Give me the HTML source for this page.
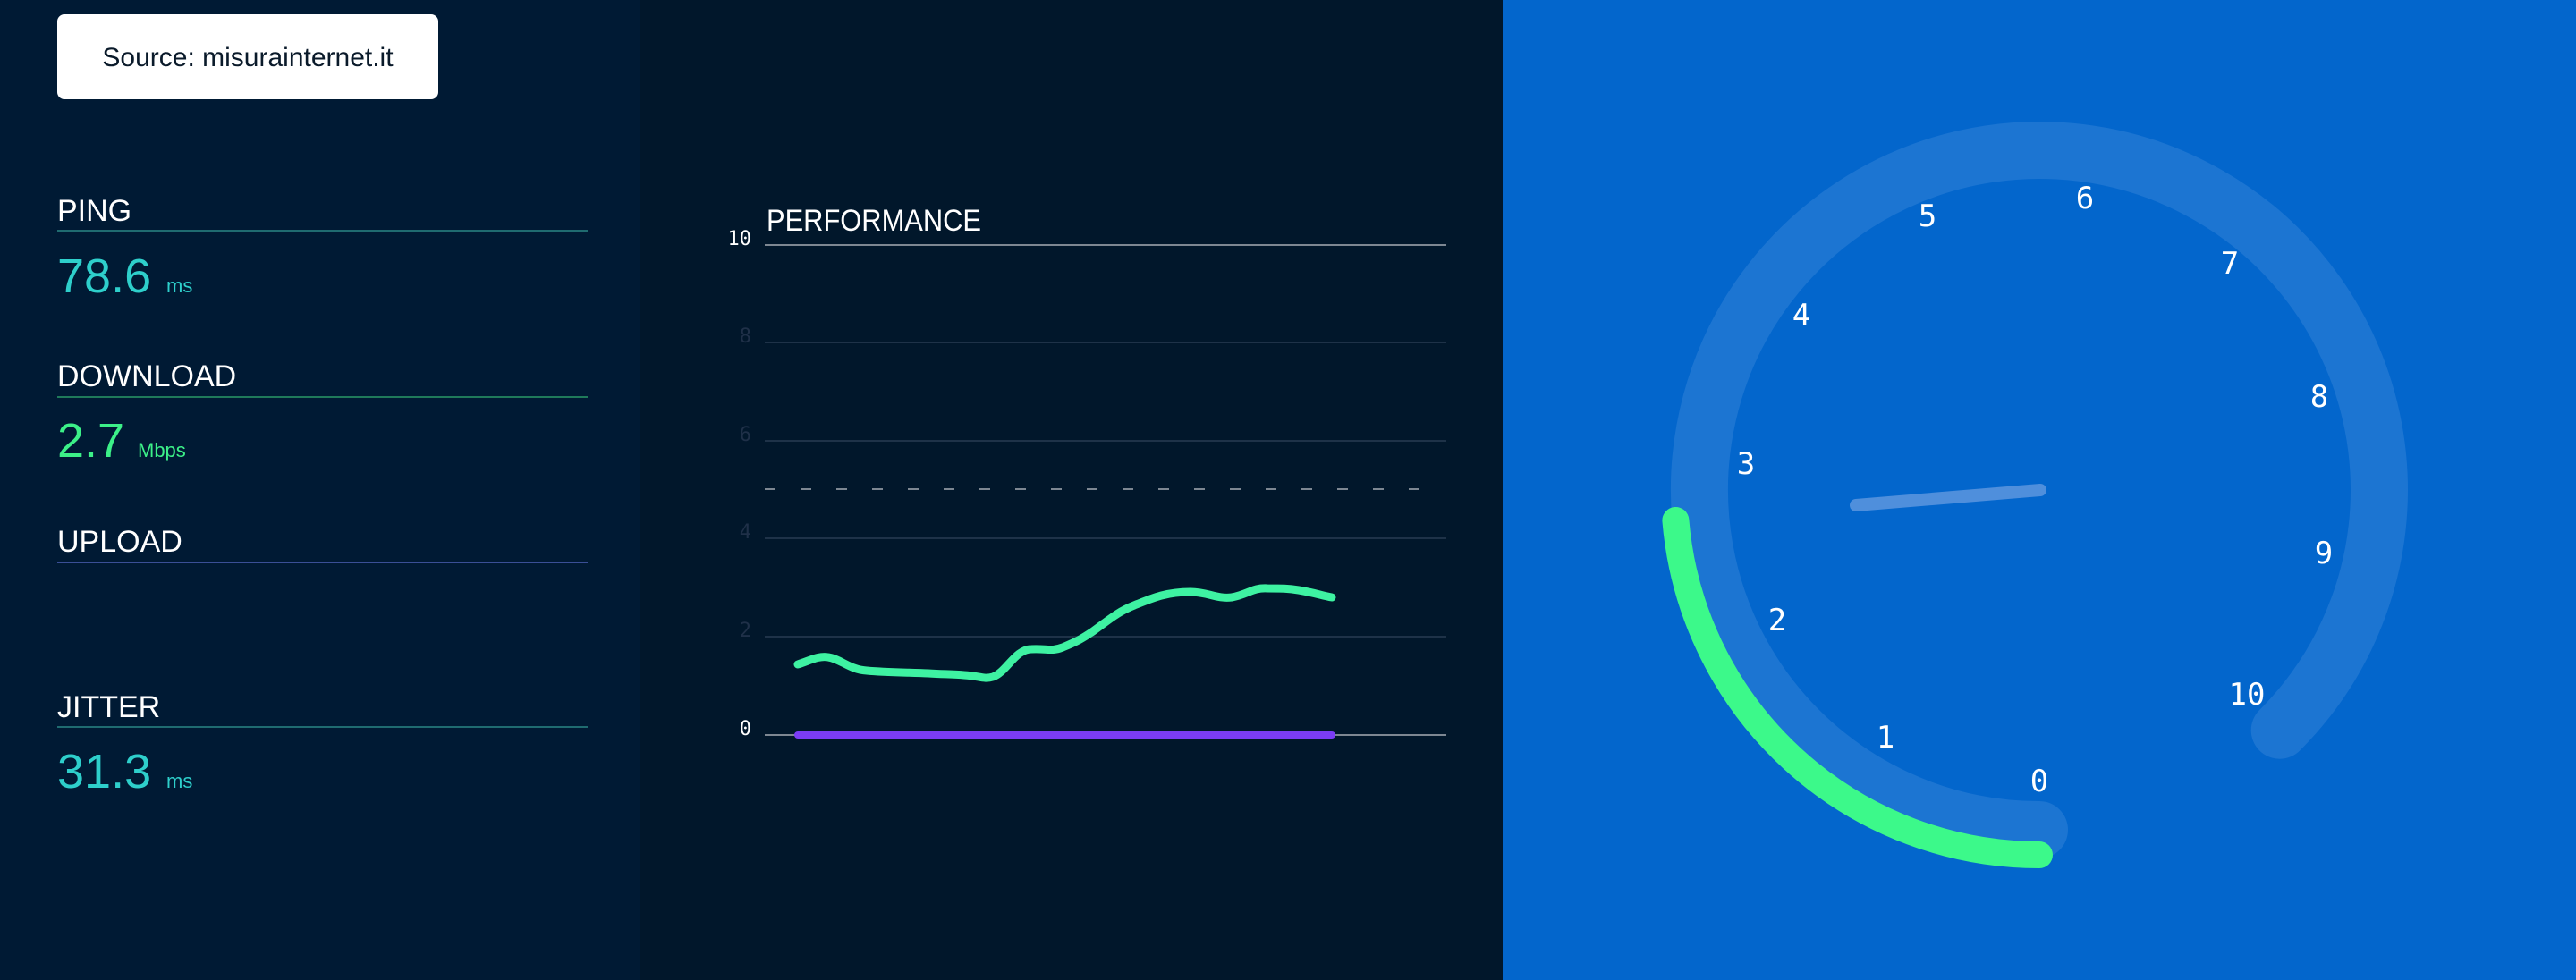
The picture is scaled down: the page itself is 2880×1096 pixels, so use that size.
<!DOCTYPE html>
<html><head><meta charset="utf-8"><style>
html,body{margin:0;padding:0;width:2880px;height:1096px;overflow:hidden;background:#001a33}
svg{display:block}
</style></head><body>
<svg width="2880" height="1096" viewBox="0 0 2880 1096" xmlns="http://www.w3.org/2000/svg" font-family="Liberation Sans, sans-serif">
<rect x="0" y="0" width="716" height="1096" fill="#001a34"/>
<rect x="716" y="0" width="964" height="1096" fill="#01172b"/>
<rect x="1680" y="0" width="1200" height="1096" fill="#0366cc"/>

<!-- source button -->
<rect x="64" y="16" width="426" height="95" rx="8" fill="#ffffff"/>
<text x="277" y="74" font-size="30" fill="#0a1a2a" text-anchor="middle">Source: misurainternet.it</text>

<!-- stats -->
<g fill="#ffffff" font-size="34">
<text x="64" y="247">PING</text>
<text x="64" y="432">DOWNLOAD</text>
<text x="64" y="617">UPLOAD</text>
<text x="64" y="802">JITTER</text>
</g>
<rect x="64" y="257" width="593" height="2" fill="#1f6b70"/>
<rect x="64" y="443" width="593" height="2" fill="#1f7a5a"/>
<rect x="64" y="628" width="593" height="2" fill="#3a4f96"/>
<rect x="64" y="812" width="593" height="2" fill="#1f6b70"/>
<text x="64" y="327" font-size="54" fill="#2ecfcb">78.6</text>
<text x="186" y="327" font-size="22" fill="#2ecfcb">ms</text>
<text x="64" y="511" font-size="54" fill="#3cf088">2.7</text>
<text x="154" y="511" font-size="22" fill="#3cf088">Mbps</text>
<text x="64" y="881" font-size="54" fill="#2ecfcb">31.3</text>
<text x="186" y="881" font-size="22" fill="#2ecfcb">ms</text>

<!-- chart -->
<text x="857" y="258" font-size="34" fill="#ffffff" textLength="240" lengthAdjust="spacingAndGlyphs">PERFORMANCE</text>
<g stroke-width="2">
<line x1="855" y1="274" x2="1617" y2="274" stroke="#7d8792"/>
<line x1="855" y1="383" x2="1617" y2="383" stroke="#1e3248"/>
<line x1="855" y1="493" x2="1617" y2="493" stroke="#1e3248"/>
<line x1="855" y1="602" x2="1617" y2="602" stroke="#1e3248"/>
<line x1="855" y1="712" x2="1617" y2="712" stroke="#1e3248"/>
<line x1="855" y1="822" x2="1617" y2="822" stroke="#7d8792"/>
<line x1="855" y1="547" x2="1590" y2="547" stroke="#7d8792" stroke-dasharray="12 28"/>
</g>
<g font-family="DejaVu Sans Mono, Liberation Mono, monospace" font-size="22" text-anchor="end">
<text x="840" y="274" fill="#ffffff">10</text>
<text x="840" y="383" fill="#1f3048">8</text>
<text x="840" y="493" fill="#1f3048">6</text>
<text x="840" y="602" fill="#1f3048">4</text>
<text x="840" y="712" fill="#1f3048">2</text>
<text x="840" y="822" fill="#ffffff">0</text>
</g>
<line x1="892" y1="822" x2="1489" y2="822" stroke="#7b3cf5" stroke-width="8" stroke-linecap="round"/>
<path d="M892,743 C905,739 915,733 926,735 C940,737 950,749 969,750 C990,752 1015,752 1038,753 C1055,754 1065,754 1078,755 C1095,756 1100,760 1110,757 C1125,752 1135,726 1153,726 C1170,725 1175,729 1188,724 C1205,717 1210,714 1222,706 C1240,693 1250,684 1268,677 C1290,668 1305,662 1331,662 C1350,662 1360,670 1377,668 C1395,665 1400,657 1417,658 C1432,658 1440,658 1452,660 C1470,663 1478,666 1489,668" fill="none" stroke="#3ef2a2" stroke-width="9" stroke-linecap="round" stroke-linejoin="round"/>

<!-- gauge -->
<path d="M2280,928 A380,380 0 1 1 2548.7,816.7" fill="none" stroke="#1c75d2" stroke-width="64" stroke-linecap="round"/>
<path d="M2280,956 A408,408 0 0 1 1873.4,582" fill="none" stroke="#3cf98a" stroke-width="30" stroke-linecap="round"/>
<line x1="2075" y1="565" x2="2281" y2="548" stroke="#4f8fdc" stroke-width="14" stroke-linecap="round"/>
<g fill="#ffffff" font-family="DejaVu Sans Mono, Liberation Mono, monospace" font-size="34" text-anchor="middle" dominant-baseline="central">
<text x="2280" y="874">0</text>
<text x="2108" y="825">1</text>
<text x="1987" y="694">2</text>
<text x="1952" y="519">3</text>
<text x="2014" y="353">4</text>
<text x="2155" y="242">5</text>
<text x="2331" y="222">6</text>
<text x="2493" y="295">7</text>
<text x="2593" y="444">8</text>
<text x="2598" y="619">9</text>
<text x="2512" y="777">10</text>
</g>
</svg>
</body></html>
